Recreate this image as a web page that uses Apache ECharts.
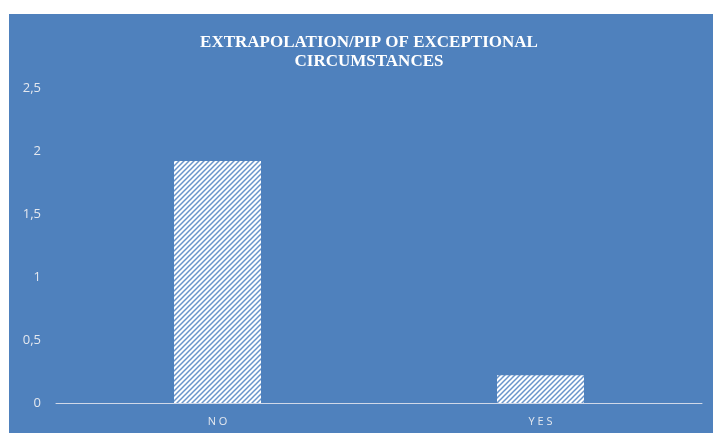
<!DOCTYPE html>
<html>
<head>
<meta charset="utf-8">
<script src="https://cdn.jsdelivr.net/npm/echarts@6/dist/echarts.min.js"></script>
<style>
  html, body { margin: 0; padding: 0; background: #fff; }
  #chart { width: 713px; height: 433px; }
</style>
</head>
<body>
<div id="chart"></div>
<script>
const categories = ['NO', 'YES'];
const counts = [1.92, 0.22];
const titleText = 'EXTRAPOLATION/PIP OF EXCEPTIONAL\nCIRCUMSTANCES';

const blue = '#4F81BD';

// diagonal hatch fill like the office "wide upward diagonal" pattern
function makeHatch() {
  const c = document.createElement('canvas');
  c.width = 5;
  c.height = 5;
  const ctx = c.getContext('2d');
  ctx.fillStyle = '#ffffff';
  ctx.fillRect(0, 0, 5, 5);
  ctx.strokeStyle = '#6a95cb';
  ctx.lineWidth = 1.5;
  ctx.beginPath();
  ctx.moveTo(-1, 6); ctx.lineTo(6, -1);
  ctx.moveTo(-1, 1); ctx.lineTo(1, -1);
  ctx.moveTo(4, 6); ctx.lineTo(6, 4);
  ctx.stroke();
  return c;
}

const chart = echarts.init(document.getElementById('chart'));
chart.setOption({
  animation: false,
  backgroundColor: '#ffffff',
  graphic: [{
    type: 'rect',
    silent: true,
    z: -10,
    shape: { x: 9, y: 14, width: 704, height: 419 },
    style: { fill: blue }
  }],
  title: {
    text: titleText,
    left: 364,
    top: 28,
    textAlign: 'center',
    textStyle: {
      color: '#ffffff',
      fontFamily: 'Liberation Serif',
      fontWeight: 'bold',
      fontSize: 17,
      lineHeight: 19
    }
  },
  grid: { left: 56, right: 11, top: 88, bottom: 30, containLabel: false },
  xAxis: {
    type: 'category',
    data: categories,
    axisLine: { lineStyle: { color: '#d0d8e8', width: 1 } },
    axisTick: { show: false },
    axisLabel: {
      color: '#e4e8ef',
      fontFamily: 'Open Sans',
      fontSize: 11,
      margin: 13,
      formatter: (v) => v.split('').join(' ')
    }
  },
  yAxis: {
    type: 'value',
    min: 0,
    max: 2.5,
    interval: 0.5,
    axisLine: { show: false },
    axisTick: { show: false },
    splitLine: { show: false },
    axisLabel: {
      color: '#e4e8ef',
      fontFamily: 'Open Sans',
      fontSize: 13,
      margin: 15,
      formatter: (v) => String(v).replace('.', ',')
    }
  },
  series: [{
    type: 'bar',
    data: counts,
    barWidth: 87,
    itemStyle: {
      color: { image: makeHatch(), repeat: 'repeat' }
    }
  }]
});
</script>
</body>
</html>
